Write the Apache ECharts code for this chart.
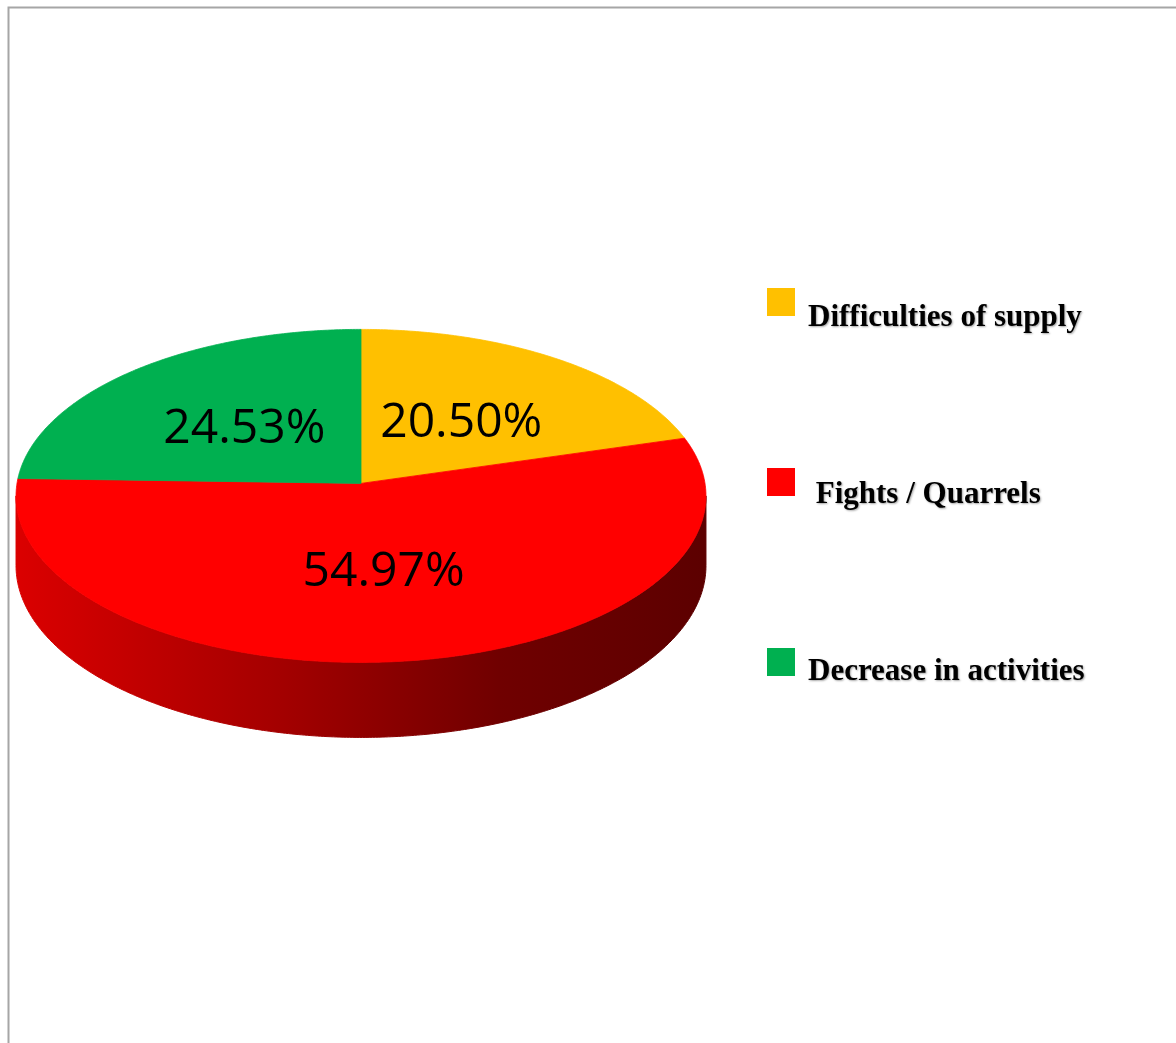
<!DOCTYPE html>
<html>
<head>
<meta charset="utf-8">
<script src="https://cdn.jsdelivr.net/npm/echarts@6/dist/echarts.min.js"></script>
<style>
html,body{margin:0;padding:0;background:#fff;}
#chart{width:1176px;height:1043px;}
</style>
</head>
<body>
<div id="chart"></div>
<script>
// ---- data ----
const categories = ['Difficulties of supply', ' Fights / Quarrels', 'Decrease in activities'];
const values = [20.50, 54.97, 24.53];
const colors = ['#FFC000', '#FF0000', '#00B050'];

// ---- 3D perspective projection of the pie disc ----
const P = { cx: 361, D: 13.32, F: 29376, G: 4582, Yh: -1722, H: 924 };
function proj(r, deg, down) {
  const t = deg * Math.PI / 180;
  const x = r * Math.sin(t), z = r * Math.cos(t);
  const w = P.D + z;
  return [P.cx + P.G * x / w, P.Yh + (P.F + (down ? P.H : 0)) / w];
}
const total = values.reduce((a, b) => a + b, 0);
const starts = [];
let acc = 0;
values.forEach(v => { starts.push(acc / total * 360); acc += v; });
function angles(i) { return [starts[i], starts[i] + values[i] / total * 360]; }

// visible side silhouette range
const sil = Math.acos(-1 / P.D) * 180 / Math.PI;
const sideRange = [sil, 360 - sil];

function shade(hex, f) {
  const n = parseInt(hex.slice(1), 16);
  const r = Math.round(((n >> 16) & 255) * f), g = Math.round(((n >> 8) & 255) * f), b = Math.round((n & 255) * f);
  return 'rgb(' + r + ',' + g + ',' + b + ')';
}

function arcPts(r, a0, a1, down) {
  const pts = [];
  const n = Math.max(2, Math.ceil(Math.abs(a1 - a0) / 0.5));
  for (let k = 0; k <= n; k++) pts.push(proj(r, a0 + (a1 - a0) * k / n, down));
  return pts;
}

const data = values.map((v, i) => ({ name: categories[i], value: v }));

const legendGraphics = [];
categories.forEach((c, i) => {
  legendGraphics.push({
    type: 'rect', left: 767, top: 288 + 180 * i,
    shape: { width: 28, height: 28 },
    style: { fill: colors[i] }
  });
  legendGraphics.push({
    type: 'text', x: 808, y: 318 + 177 * i,
    style: {
      text: c, fill: '#000', font: 'bold 31px "Liberation Serif", "Times New Roman", serif',
      textVerticalAlign: 'middle', verticalAlign: 'middle',
      textShadowColor: 'rgba(0,0,0,0.35)', textShadowBlur: 2, textShadowOffsetX: 1, textShadowOffsetY: 1
    }
  });
});

const chart = echarts.init(document.getElementById('chart'), null, { renderer: 'canvas' });
chart.setOption({
  animation: false,
  backgroundColor: '#fff',
  graphic: [
    { type: 'rect', left: 6, top: 5, shape: { width: 1400, height: 1300 }, style: { fill: 'none', stroke: '#a6a6a6', lineWidth: 2 }, silent: true },
    ...legendGraphics
  ],
  series: [
    {
      type: 'custom', name: 'side', coordinateSystem: 'none', z: 1, data: data,
      renderItem: function (params) {
        const i = params.dataIndex;
        const [a0, a1] = angles(i);
        const lo = Math.max(a0, sideRange[0]), hi = Math.min(a1, sideRange[1]);
        if (hi <= lo) return { type: 'group', children: [] };
        const top = arcPts(1, lo, hi, false);
        const bot = arcPts(1, hi, lo, true);
        const left = proj(1, sideRange[1], false)[0], right = proj(1, sideRange[0], false)[0];
        const c = colors[i];
        const grad = {
          type: 'linear', x: left, y: 0, x2: right, y2: 0, global: true,
          colorStops: [
            { offset: 0, color: shade(c, 0.86) },
            { offset: 0.4, color: shade(c, 0.63) },
            { offset: 0.7, color: shade(c, 0.44) },
            { offset: 1, color: shade(c, 0.36) }
          ]
        };
        return {
          type: 'polygon',
          shape: { points: top.concat(bot) },
          style: { fill: grad, stroke: grad, lineWidth: 1 }
        };
      }
    },
    {
      type: 'custom', name: 'top', coordinateSystem: 'none', z: 2, data: data,
      renderItem: function (params) {
        const i = params.dataIndex;
        const [a0, a1] = angles(i);
        const pts = [proj(0, 0, false)].concat(arcPts(1, a0, a1, false));
        const mid = (a0 + a1) / 2;
        const lp = proj(0.5, mid, false);
        return {
          type: 'group',
          children: [
            { type: 'polygon', shape: { points: pts }, style: { fill: colors[i], stroke: colors[i], lineWidth: 0.8 } },
            {
              type: 'text', x: lp[0], y: lp[1] + 4, z2: 10,
              style: {
                text: values[i].toFixed(2) + '%', fill: '#000',
                font: '48px "Open Sans", "Noto Sans", sans-serif',
                textAlign: 'center', textVerticalAlign: 'middle', align: 'center', verticalAlign: 'middle'
              }
            }
          ]
        };
      }
    }
  ]
});
</script>
</body>
</html>
